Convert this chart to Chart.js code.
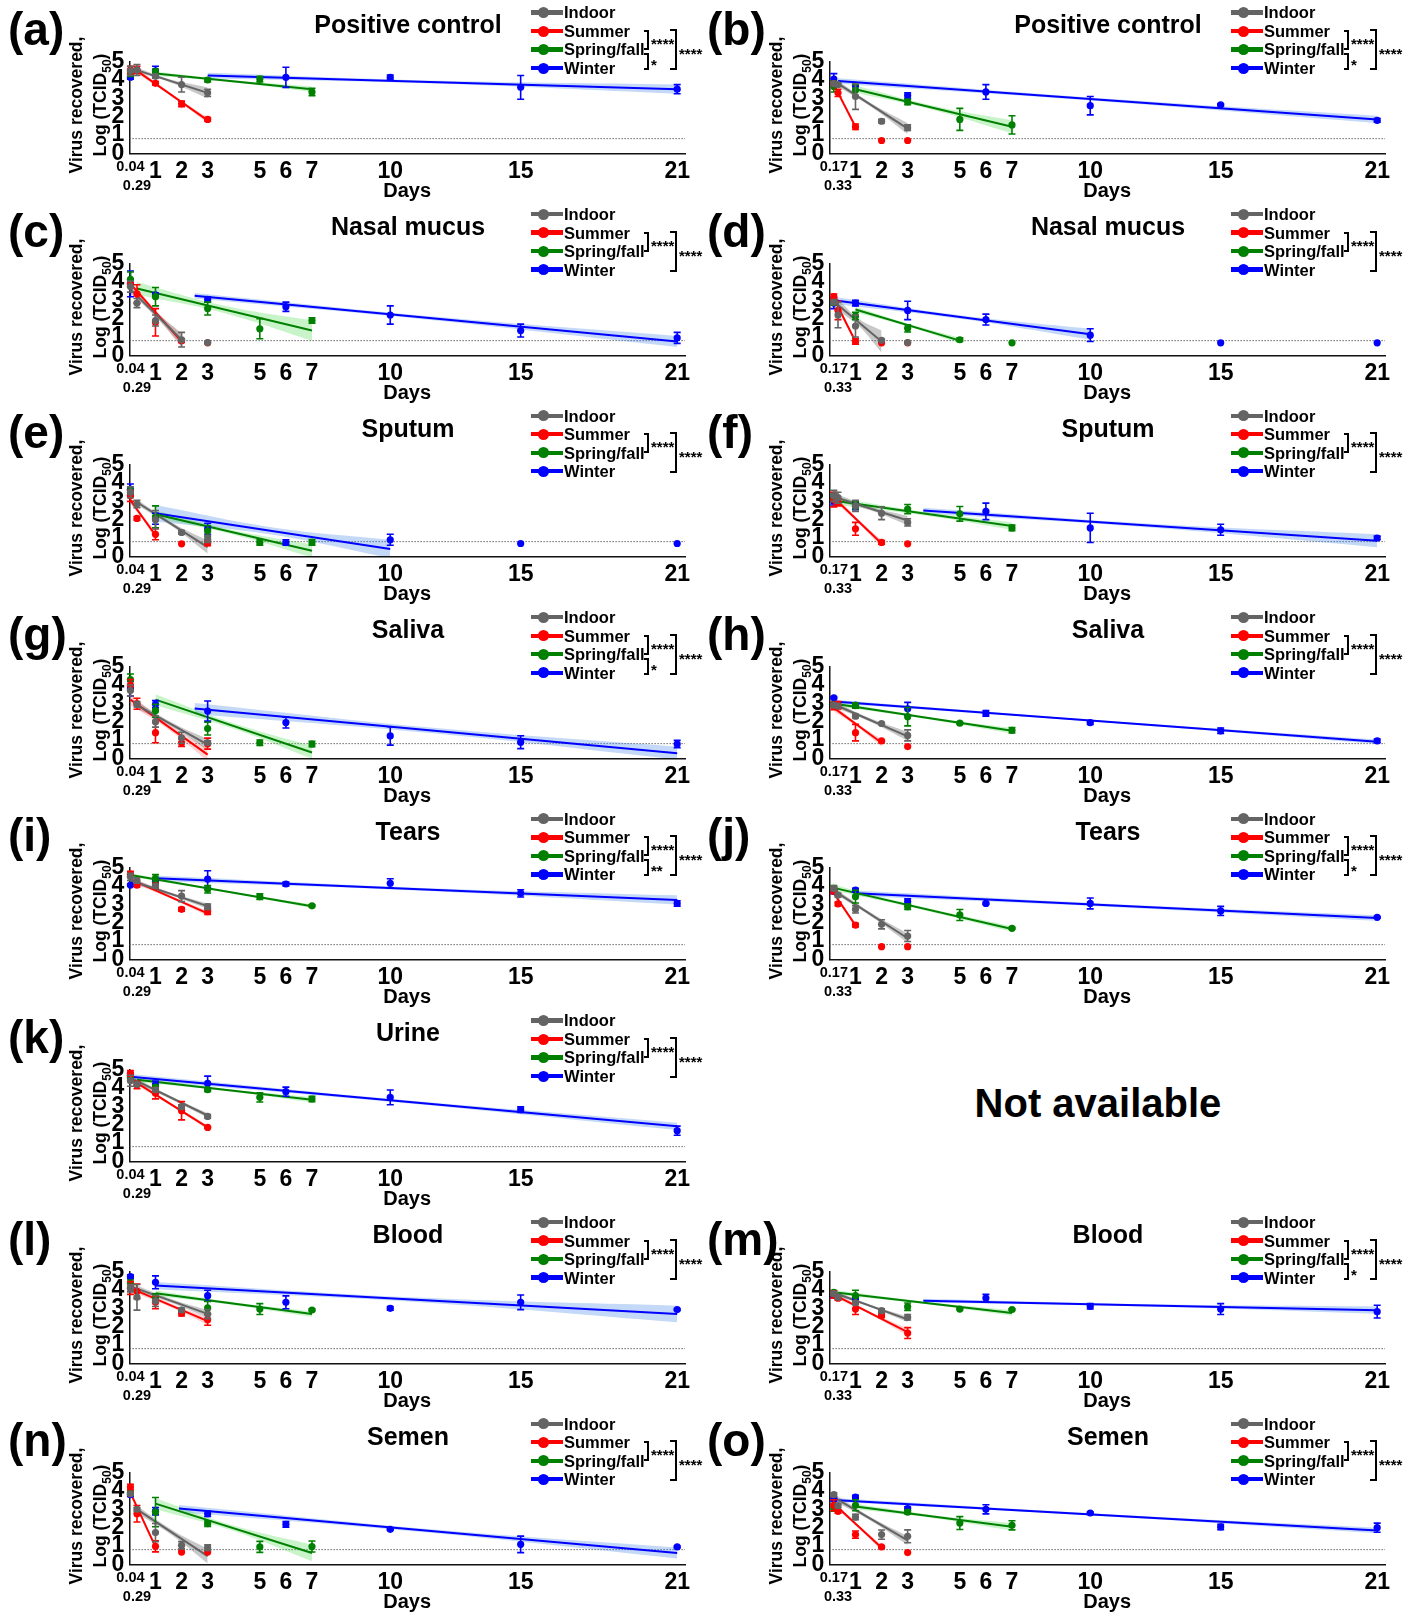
<!DOCTYPE html>
<html>
<head>
<meta charset="utf-8">
<script src="https://cdn.jsdelivr.net/npm/chart.js@4.4.0/dist/chart.umd.min.js"></script>
<style>
body { margin: 0; background: #fff; }
#page { position: relative; width: 1414px; height: 1613px; overflow: hidden;
  font-family: 'Liberation Sans', Arial, Helvetica, sans-serif; font-weight: bold; color: #000; }
#page canvas { position: absolute; }
#page div { position: absolute; white-space: nowrap; }
</style>
</head>
<body>
<div id="page"></div>
<script>
// ---- axis ticks ----
const TICKS_L = [0.04, 0.29, 1, 2, 3, 5, 6, 7, 10, 15, 21];
const LABELS_L = ['0.04', '0.29', '1', '2', '3', '5', '6', '7', '10', '15', '21'];
const TICKS_R = [0.17, 0.33, 1, 2, 3, 5, 6, 7, 10, 15, 21];
const LABELS_R = ['0.17', '0.33', '1', '2', '3', '5', '6', '7', '10', '15', '21'];
const Y_TICKS = [0, 1, 2, 3, 4, 5];
const X_MAX = 21.3;
const LOD = 0.8;

const SERIES = ['Indoor', 'Summer', 'Spring/fall', 'Winter'];

// ---- data: [day, mean log TCID50, sd] ----
// fits: [x0, y0, x1, y1, band at start, band mid, band end] for indoor, summer, spring/fall, winter
const a_indoor = [[0.04,4.5,0.25],[0.29,4.55,0.3],[1,4.2,0.1],[2,3.75,0.4],[3,3.3,0.2]];
const a_summer = [[0.04,4.55,0.2],[0.29,4.55,0.2],[1,3.82,0.1],[2,2.7,0.15],[3,1.85,0.1]];
const a_spring = [[0.04,4.35,0.15],[1,4.45,0.15],[3,4.0,0.1],[5,4.05,0.15],[7,3.35,0.2]];
const a_winter = [[0.04,4.15,0.1],[1,4.5,0.25],[6,4.15,0.55],[10,4.15,0.12],[15,3.6,0.65],[21,3.5,0.25]];
const a_fits = [[0.04,4.65,3,3.3,0.15,0.08,0.3],[0.29,4.5,3,1.8,0.15,0.06,0.15],[1,4.35,7,3.5,0.12,0.06,0.15],[3,4.25,21,3.5,0.15,0.08,0.25]];

const b_indoor = [[0.17,3.8,0.1],[0.33,3.75,0.1],[1,3.1,0.7],[2,1.75,0.1],[3,1.4,0.15]];
const b_summer = [[0.17,3.8,0.1],[0.33,3.3,0.2],[1,1.45,0.15],[2,0.7,0],[3,0.7,0]];
const b_spring = [[0.17,3.65,0.3],[1,3.45,0.3],[3,2.8,0.15],[5,1.85,0.6],[7,1.55,0.5]];
const b_winter = [[0.17,4.05,0.3],[1,3.7,0.05],[3,3.15,0.15],[6,3.35,0.4],[10,2.6,0.5],[15,2.65,0.05],[21,1.8,0.1]];
const b_fits = [[0.33,3.8,3,1.35,0.15,0.1,0.3],[0.17,3.75,1,1.45,0.1,0.05,0.1],[1,3.5,7,1.45,0.2,0.12,0.35],[0.33,3.95,21,1.85,0.15,0.08,0.2]];

const c_indoor = [[0.04,3.75,0.3],[0.29,2.85,0.25],[1,1.9,0.3],[2,0.85,0.4],[3,0.7,0]];
const c_summer = [[0.04,3.85,0.1],[0.29,3.35,0.5],[1,1.8,0.75],[2,0.8,0.1],[3,0.68,0]];
const c_spring = [[0.04,4.15,0.4],[1,3.2,0.5],[3,2.55,0.35],[5,1.45,0.55],[7,1.9,0.15]];
const c_winter = [[0.04,3.9,0.7],[1,3.3,0.1],[3,3.05,0.15],[6,2.65,0.25],[10,2.2,0.5],[15,1.35,0.35],[21,0.95,0.3]];
const c_fits = [[0.04,3.6,2,0.85,0.2,0.15,0.35],[0.04,3.9,2,0.75,0.2,0.12,0.35],[0.29,3.65,7,1.35,0.35,0.2,0.55],[2.5,3.25,21,0.75,0.15,0.1,0.3]];

const d_indoor = [[0.17,2.9,0.1],[0.33,2.2,0.7],[1,1.6,0.6],[2,0.82,0.05],[3,0.7,0]];
const d_summer = [[0.17,3.2,0.15],[0.33,2.45,0.5],[1,0.76,0.15],[2,0.68,0],[3,0.68,0]];
const d_spring = [[0.17,2.9,0.15],[1,2.15,0.2],[3,1.47,0.2],[5,0.85,0.1],[7,0.68,0]];
const d_winter = [[0.17,2.85,0.3],[1,2.85,0.15],[3,2.45,0.5],[6,1.95,0.3],[10,1.1,0.35],[15,0.68,0],[21,0.68,0]];
const d_fits = [[0.33,2.75,2,0.75,0.3,0.2,0.6],[0.17,3.1,1,0.75,0.1,0.05,0.1],[1,2.5,5,0.8,0.15,0.08,0.15],[0.17,3.0,10,1.15,0.2,0.1,0.3]];

const e_indoor = [[0.04,3.5,0.3],[0.29,2.85,0.2],[1,2.0,0.5],[2,1.3,0.1],[3,0.95,0.2]];
const e_summer = [[0.04,3.3,0.3],[0.29,2.07,0.1],[1,1.2,0.3],[2,0.68,0],[3,0.73,0.15]];
const e_spring = [[0.04,3.6,0.2],[1,2.15,0.6],[3,1.38,0.3],[5,0.76,0.15],[7,0.76,0.15]];
const e_winter = [[0.04,3.65,0.3],[1,2.05,0.3],[3,1.5,0.3],[6,0.75,0.15],[10,0.9,0.3],[15,0.7,0],[21,0.7,0]];
const e_fits = [[0.29,2.95,3,0.5,0.15,0.1,0.35],[0.04,3.05,1,1.15,0.2,0.1,0.25],[1,2.3,7,0.3,0.2,0.12,0.35],[1,2.35,10,0.4,0.45,0.2,0.5]];

const f_indoor = [[0.17,3.3,0.3],[0.33,3.2,0.3],[1,2.75,0.3],[2,2.35,0.35],[3,1.85,0.2]];
const f_summer = [[0.17,3.1,0.4],[0.33,2.95,0.2],[1,1.5,0.35],[2,0.76,0.1],[3,0.68,0]];
const f_spring = [[0.17,3.2,0.2],[1,2.8,0.2],[3,2.58,0.25],[5,2.32,0.4],[7,1.55,0.15]];
const f_winter = [[0.17,3.0,0.2],[1,2.75,0.2],[6,2.45,0.45],[10,1.55,0.8],[15,1.45,0.3],[21,1.0,0.1]];
const f_fits = [[0.17,3.25,3,1.95,0.2,0.1,0.25],[0.17,3.2,2,0.7,0.2,0.1,0.2],[0.33,3.0,7,1.65,0.2,0.1,0.2],[3.6,2.5,21,0.85,0.15,0.1,0.35]];

const g_indoor = [[0.04,3.7,0.3],[0.29,2.95,0.15],[1,2.0,0.3],[2,1.12,0.3],[3,0.85,0.1]];
const g_summer = [[0.04,4.0,0.3],[0.29,2.98,0.3],[1,1.4,0.55],[2,0.85,0.2],[3,0.8,0.3]];
const g_spring = [[0.04,4.3,0.3],[1,2.6,0.35],[3,1.62,0.35],[5,0.85,0.15],[7,0.78,0.15]];
const g_winter = [[0.04,3.8,0.4],[1,2.95,0.2],[3,2.58,0.55],[6,1.95,0.3],[10,1.22,0.5],[15,0.88,0.35],[21,0.78,0.2]];
const g_fits = [[0.29,2.9,3,0.75,0.2,0.12,0.3],[0.04,3.2,3,0.2,0.3,0.15,0.35],[1,3.2,7,0.32,0.3,0.15,0.35],[2.5,2.72,21,0.28,0.3,0.15,0.35]];

const h_indoor = [[0.17,2.9,0.1],[0.33,2.85,0.1],[1,2.3,0.1],[2,1.9,0.05],[3,1.25,0.3]];
const h_summer = [[0.17,2.85,0.2],[0.33,2.9,0.2],[1,1.4,0.45],[2,0.95,0.05],[3,0.64,0]];
const h_spring = [[0.17,2.95,0.1],[1,2.88,0.15],[3,2.27,0.5],[5,1.92,0.05],[7,1.53,0.15]];
const h_winter = [[0.17,3.3,0.05],[1,2.9,0.1],[3,2.7,0.35],[6,2.45,0.15],[10,1.95,0.1],[15,1.5,0.15],[21,0.95,0.1]];
const h_fits = [[0.17,2.95,3,1.2,0.15,0.1,0.25],[0.17,2.75,2,0.85,0.2,0.1,0.2],[0.33,2.95,7,1.5,0.12,0.06,0.15],[0.17,3.1,21,0.9,0.1,0.05,0.12]];

const i_indoor = [[0.04,4.5,0.2],[0.29,4.3,0.15],[1,4.0,0.1],[2,3.45,0.3],[3,2.87,0.15]];
const i_summer = [[0.04,4.65,0.15],[0.29,4.05,0.1],[1,4.0,0.15],[2,2.73,0.1],[3,2.6,0.15]];
const i_spring = [[0.04,4.6,0.1],[1,4.42,0.2],[3,3.82,0.2],[5,3.42,0.15],[7,2.92,0.05]];
const i_winter = [[0.04,4.05,0.05],[1,4.24,0.1],[3,4.38,0.45],[6,4.11,0.1],[10,4.15,0.25],[15,3.6,0.2],[21,3.05,0.15]];
const i_fits = [[0.04,4.3,3,2.9,0.15,0.08,0.15],[0.04,4.36,3,2.51,0.15,0.08,0.15],[0.04,4.6,7,2.9,0.1,0.05,0.1],[1,4.42,21,3.24,0.15,0.08,0.25]];

const j_indoor = [[0.17,3.87,0.1],[0.33,3.5,0.1],[1,2.73,0.2],[2,1.91,0.25],[3,1.27,0.3]];
const j_summer = [[0.17,3.73,0.15],[0.33,3.02,0.1],[1,1.87,0.1],[2,0.69,0],[3,0.69,0]];
const j_spring = [[0.17,3.87,0.15],[1,3.42,0.35],[3,2.87,0.15],[5,2.42,0.3],[7,1.69,0.05]];
const j_winter = [[0.17,3.7,0.1],[1,3.78,0.1],[3,3.15,0.15],[6,3.05,0.05],[10,3.05,0.3],[15,2.64,0.25],[21,2.29,0.05]];
const j_fits = [[0.17,3.75,3,1.15,0.15,0.1,0.25],[0.17,3.6,1,1.85,0.1,0.05,0.1],[0.17,3.9,7,1.65,0.15,0.08,0.15],[1,3.6,21,2.25,0.15,0.08,0.15]];

const k_indoor = [[0.04,4.4,0.3],[0.29,4.2,0.1],[1,3.9,0.1],[2,2.98,0.1],[3,2.45,0.1]];
const k_summer = [[0.04,4.8,0.15],[0.29,4.16,0.2],[1,3.71,0.3],[2,2.76,0.5],[3,1.85,0.05]];
const k_spring = [[0.04,4.55,0.1],[1,4.05,0.1],[3,3.91,0.1],[5,3.49,0.25],[7,3.4,0.15]];
const k_winter = [[0.04,4.7,0.1],[1,4.18,0.2],[3,4.25,0.4],[6,3.8,0.25],[10,3.49,0.4],[15,2.82,0.15],[21,1.67,0.25]];
const k_fits = [[0.04,4.55,3,2.5,0.15,0.08,0.12],[0.04,4.5,3,1.85,0.15,0.08,0.12],[0.29,4.45,7,3.36,0.12,0.06,0.15],[0.04,4.62,21,1.91,0.15,0.08,0.2]];

const l_indoor = [[0.04,4.1,0.2],[0.29,3.6,0.7],[1,3.4,0.3],[2,2.91,0.1],[3,2.69,0.25]];
const l_summer = [[0.04,4.11,0.35],[0.29,3.93,0.4],[1,3.33,0.35],[2,2.73,0.15],[3,2.38,0.3]];
const l_spring = [[0.04,4.35,0.2],[1,3.6,0.2],[3,3.02,0.35],[5,2.96,0.3],[7,2.91,0.05]];
const l_winter = [[0.04,4.73,0.1],[1,4.42,0.35],[3,3.69,0.3],[6,3.33,0.35],[10,3.0,0.1],[15,3.33,0.4],[21,2.93,0.05]];
const l_fits = [[0.04,4.2,3,2.7,0.2,0.1,0.2],[0.04,4.1,3,2.3,0.2,0.1,0.2],[1,3.82,7,2.69,0.15,0.08,0.15],[1,4.24,21,2.69,0.2,0.12,0.45]];

const m_indoor = [[0.17,3.8,0.1],[0.33,3.6,0.1],[1,3.3,0.1],[2,2.87,0.1],[3,2.51,0.15]];
const m_summer = [[0.17,3.75,0.2],[0.33,3.55,0.1],[1,2.96,0.3],[2,2.6,0.1],[3,1.65,0.3]];
const m_spring = [[0.17,3.87,0.1],[1,3.69,0.3],[3,3.09,0.2],[5,2.96,0.05],[7,2.93,0.05]];
const m_winter = [[0.17,3.7,0.1],[1,3.6,0.1],[6,3.56,0.2],[10,3.11,0.15],[15,2.96,0.3],[21,2.82,0.35]];
const m_fits = [[0.17,3.85,3,2.4,0.12,0.06,0.15],[0.17,3.75,3,1.7,0.15,0.08,0.2],[0.33,3.85,7,2.75,0.12,0.06,0.15],[3.6,3.42,21,2.9,0.1,0.06,0.2]];

const n_indoor = [[0.04,3.85,0.05],[0.29,3.0,0.1],[1,1.73,0.5],[2,1.04,0.2],[3,0.91,0.15]];
const n_summer = [[0.04,4.22,0.15],[0.29,2.76,0.45],[1,0.98,0.3],[2,0.67,0],[3,0.67,0]];
const n_spring = [[0.04,3.9,0.1],[1,2.85,0.8],[3,2.22,0.15],[5,0.95,0.3],[7,0.97,0.3]];
const n_winter = [[0.04,3.8,0.1],[1,2.9,0.2],[3,2.76,0.15],[6,2.18,0.15],[10,1.91,0.05],[15,1.09,0.45],[21,0.95,0.05]];
const n_fits = [[0.29,3.0,3,0.45,0.2,0.15,0.4],[0.04,3.9,1,0.95,0.15,0.08,0.15],[1,3.31,7,0.62,0.3,0.15,0.45],[1.9,3.04,21,0.62,0.2,0.1,0.3]];

const o_indoor = [[0.17,3.8,0.1],[0.33,3.2,0.1],[1,2.58,0.15],[2,1.62,0.25],[3,1.53,0.35]];
const o_summer = [[0.17,3.22,0.3],[0.33,2.89,0.1],[1,1.62,0.2],[2,0.95,0.05],[3,0.64,0]];
const o_spring = [[0.17,3.1,0.2],[1,3.22,0.3],[3,2.85,0.1],[5,2.25,0.35],[7,2.13,0.25]];
const o_winter = [[0.17,3.55,0.1],[1,3.67,0.1],[3,3.04,0.1],[6,3.0,0.25],[10,2.8,0.05],[15,2.04,0.15],[21,2.0,0.25]];
const o_fits = [[0.17,3.65,3,1.3,0.2,0.1,0.25],[0.17,3.3,2,0.9,0.15,0.08,0.15],[1,3.15,7,2.05,0.15,0.08,0.2],[0.33,3.5,21,1.85,0.1,0.06,0.15]];

const PANELS = [
  {id: 'a', col: 0, row: 0, title: 'Positive control', series: [a_indoor, a_summer, a_spring, a_winter], fits: a_fits, stars: ['****', '*']},
  {id: 'b', col: 1, row: 0, title: 'Positive control', series: [b_indoor, b_summer, b_spring, b_winter], fits: b_fits, stars: ['****', '*']},
  {id: 'c', col: 0, row: 1, title: 'Nasal mucus', series: [c_indoor, c_summer, c_spring, c_winter], fits: c_fits, stars: ['****']},
  {id: 'd', col: 1, row: 1, title: 'Nasal mucus', series: [d_indoor, d_summer, d_spring, d_winter], fits: d_fits, stars: ['****']},
  {id: 'e', col: 0, row: 2, title: 'Sputum', series: [e_indoor, e_summer, e_spring, e_winter], fits: e_fits, stars: ['****']},
  {id: 'f', col: 1, row: 2, title: 'Sputum', series: [f_indoor, f_summer, f_spring, f_winter], fits: f_fits, stars: ['****']},
  {id: 'g', col: 0, row: 3, title: 'Saliva', series: [g_indoor, g_summer, g_spring, g_winter], fits: g_fits, stars: ['****', '*']},
  {id: 'h', col: 1, row: 3, title: 'Saliva', series: [h_indoor, h_summer, h_spring, h_winter], fits: h_fits, stars: ['****']},
  {id: 'i', col: 0, row: 4, title: 'Tears', series: [i_indoor, i_summer, i_spring, i_winter], fits: i_fits, stars: ['****', '**']},
  {id: 'j', col: 1, row: 4, title: 'Tears', series: [j_indoor, j_summer, j_spring, j_winter], fits: j_fits, stars: ['****', '*']},
  {id: 'k', col: 0, row: 5, title: 'Urine', series: [k_indoor, k_summer, k_spring, k_winter], fits: k_fits, stars: ['****']},
  {id: 'l', col: 0, row: 6, title: 'Blood', series: [l_indoor, l_summer, l_spring, l_winter], fits: l_fits, stars: ['****']},
  {id: 'm', col: 1, row: 6, title: 'Blood', series: [m_indoor, m_summer, m_spring, m_winter], fits: m_fits, stars: ['****', '*']},
  {id: 'n', col: 0, row: 7, title: 'Semen', series: [n_indoor, n_summer, n_spring, n_winter], fits: n_fits, stars: ['****']},
  {id: 'o', col: 1, row: 7, title: 'Semen', series: [o_indoor, o_summer, o_spring, o_winter], fits: o_fits, stars: ['****']}
];

// ---- styles ----
const COLORS = ['#646464', '#ff0000', '#008000', '#0000ff'];
const BANDS = ['rgba(110,110,110,0.38)', 'rgba(255,80,80,0.25)', 'rgba(60,215,60,0.28)', 'rgba(70,135,230,0.32)'];
const FONT = "'Liberation Sans', Arial, Helvetica, sans-serif";
const BIG = {family: FONT, size: 23, weight: 'bold', lineHeight: 1.2};
const SMALL = {family: FONT, size: 14.5, weight: 'bold', lineHeight: 1.27};
const ROW_H = 201.6;
const COL_X = [0, 700];
const LEG_Y = [12.5, 31, 49.5, 68];

Chart.defaults.font.family = FONT;

const page = document.getElementById('page');
function el(tag, css, html) {
  const d = document.createElement(tag);
  d.style.cssText = css;
  if (html != null) d.innerHTML = html;
  page.appendChild(d);
  return d;
}

// error bars drawn with the y scale, after each points dataset
const errorBars = {
  id: 'errorBars',
  afterDatasetDraw(chart, args) {
    const ds = chart.data.datasets[args.index];
    if (!ds.errs) return;
    const y = chart.scales.y, ctx = chart.ctx;
    ctx.save();
    ctx.strokeStyle = ds.backgroundColor;
    ctx.lineWidth = 1.6;
    args.meta.data.forEach((pt, j) => {
      const r = ds.data[j];
      if (!r.e) return;
      const top = y.getPixelForValue(r.y + r.e), bot = y.getPixelForValue(r.y - r.e);
      ctx.beginPath();
      ctx.moveTo(pt.x, top); ctx.lineTo(pt.x, bot);
      ctx.moveTo(pt.x - 3.5, top); ctx.lineTo(pt.x + 3.5, top);
      ctx.moveTo(pt.x - 3.5, bot); ctx.lineTo(pt.x + 3.5, bot);
      ctx.stroke();
    });
    ctx.restore();
  }
};

function bracket(L, T, x, y0, y1, stub, text, ty, tx) {
  el('div', `left:${L + x - stub}px;top:${T + y0}px;width:${stub}px;height:${y1 - y0}px;box-sizing:border-box;border:2px solid #000;border-left:none;`);
  el('div', `left:${L + tx}px;top:${T + ty - 4.1}px;font-size:15px;line-height:15px;`, text);
}

function makePanel(p) {
  const L = COL_X[p.col], T = p.row * ROW_H;
  const cv = el('canvas', `left:${L}px;top:${T}px;`);
  cv.width = 707; cv.height = 204;

  // texts around the plot
  el('div', `left:${L + (p.col ? 7 : 8)}px;top:${T + 6}px;font-size:46px;line-height:46px;`, `(${p.id})`);
  el('div', `left:${L + 208}px;width:400px;text-align:center;top:${T + 12.3}px;font-size:25px;line-height:25px;`, p.title);
  el('div', `left:${L + 3}px;top:${T + 81}px;width:170px;height:48px;text-align:center;font-size:17.5px;line-height:24px;transform:rotate(-90deg);`,
     'Virus recovered,<br>Log (TCID<sub style="font-size:12px;line-height:0;">50</sub>)');
  SERIES.forEach((name, k) => {
    const yc = LEG_Y[k];
    el('div', `left:${L + 531}px;top:${T + yc - 2.2}px;width:32px;height:4.4px;background:${COLORS[k]};`);
    el('div', `left:${L + 538}px;top:${T + yc - 5.5}px;width:11px;height:11px;border-radius:50%;background:${COLORS[k]};`);
    el('div', `left:${L + 564}px;top:${T + yc - 8.1}px;font-size:16.5px;line-height:16.5px;`, name);
  });
  bracket(L, T, 649, 30, 50, 5, p.stars[0], 40, 651);
  if (p.stars[1]) bracket(L, T, 649, 53, 70, 5, p.stars[1], 61, 651);
  bracket(L, T, 677, 29, 70, 7, '****', 50, 679);

  const xt = p.col ? TICKS_R : TICKS_L;
  const xl = p.col ? LABELS_R : LABELS_L;

  const datasets = [];
  datasets.push({type: 'line', data: [{x: 0, y: LOD}, {x: X_MAX, y: LOD}], borderColor: '#666', borderWidth: 1,
    borderDash: [1.5, 1.5], pointRadius: 0, order: 9});
  p.fits.forEach((f, k) => {
    const [x0, y0, x1, y1, w0, wm, w1] = f;
    const xm = (x0 + x1) / 2, ym = (y0 + y1) / 2;
    datasets.push({type: 'line', data: [{x: x0, y: y0 + w0}, {x: xm, y: ym + wm}, {x: x1, y: y1 + w1}],
      borderColor: 'rgba(0,0,0,0)', borderWidth: 0, pointRadius: 0, tension: 0.4, fill: '+1', backgroundColor: BANDS[k], order: 5});
    datasets.push({type: 'line', data: [{x: x0, y: y0 - w0}, {x: xm, y: ym - wm}, {x: x1, y: y1 - w1}],
      borderColor: 'rgba(0,0,0,0)', borderWidth: 0, pointRadius: 0, tension: 0.4, fill: false, order: 5});
    datasets.push({type: 'line', data: [{x: x0, y: y0}, {x: x1, y: y1}], borderColor: COLORS[k], borderWidth: 2,
      pointRadius: 0, fill: false, order: 3});
  });
  p.series.forEach((s, k) => {
    datasets.push({type: 'scatter', data: s.map(r => ({x: r[0], y: r[1], e: r[2]})), backgroundColor: COLORS[k],
      borderWidth: 0, pointRadius: 3.6, errs: true, clip: false, order: 1});
  });

  new Chart(cv, {
    type: 'scatter',
    data: {datasets},
    plugins: [errorBars],
    options: {
      responsive: false,
      animation: false,
      events: [],
      devicePixelRatio: 1,
      layout: {padding: {left: 99.4, right: 22, top: 61.7, bottom: 0}},
      plugins: {legend: {display: false}, tooltip: {enabled: false}},
      scales: {
        x: {
          type: 'linear', min: 0, max: X_MAX,
          grid: {display: false, drawTicks: false},
          border: {display: true, color: '#111', width: 1.5},
          afterBuildTicks: s => { s.ticks = xt.map(v => ({value: v})); },
          afterFit: s => { s.height = 50.7; s.paddingLeft = 0; s.paddingRight = 0; },
          ticks: {
            autoSkip: false, maxRotation: 0, minRotation: 0, padding: 4.6, color: '#000',
            font: c => (c.tick && c.tick.value < 0.5) ? SMALL : BIG,
            callback: (v, i) => i === 1 ? ['', xl[i]] : xl[i]
          },
          title: {display: true, text: 'Days', color: '#000', font: {family: FONT, size: 20, weight: 'bold'},
            padding: {top: 0, bottom: 1}}
        },
        y: {
          type: 'linear', min: 0, max: 5,
          grid: {display: false, drawTicks: false},
          border: {display: true, color: '#111', width: 1.5},
          afterBuildTicks: s => { s.ticks = Y_TICKS.map(v => ({value: v})); },
          afterFit: s => { s.width = 30; },
          ticks: {autoSkip: false, padding: 5, color: '#000', font: BIG, callback: v => String(v)}
        }
      }
    }
  });
}

PANELS.forEach(makePanel);

el('div', `left:848px;width:500px;text-align:center;top:1083.4px;font-size:40px;line-height:40px;`, 'Not available');
</script>
</body>
</html>
